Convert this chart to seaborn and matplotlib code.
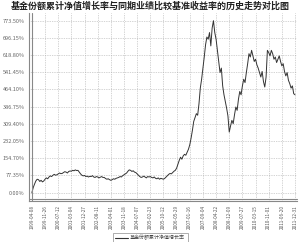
import matplotlib
matplotlib.use("Agg")
import matplotlib.pyplot as plt
import seaborn as sns
import pandas as pd
import numpy as np
from matplotlib.lines import Line2D

title = "基金份额累计净值增长率与同期业绩比较基准收益率的历史走势对比图"
series_name = "基金份额累计净值增长率"

date_labels = [
    "1999-04-08", "1999-11-26", "2000-07-12", "2001-03-04", "2001-12-27",
    "2002-08-11", "2003-04-01", "2003-11-18", "2004-07-07", "2005-02-23",
    "2005-10-12", "2006-05-29", "2007-01-16", "2007-09-04", "2008-04-22",
    "2008-12-09", "2009-07-27", "2010-03-15", "2010-11-01", "2011-06-20",
    "2011-12-31",
]

nav_growth = [
    0, 22, 38, 52, 60, 58, 50, 55, 48, 52,
    60, 66, 62, 70, 75, 72, 78, 82, 78, 80,
    84, 88, 85, 86, 90, 94, 92, 88, 95, 97,
    96, 100, 98, 102, 99, 100, 92, 84, 78, 75,
    77, 72, 74, 70, 73, 72, 76, 70, 68, 72,
    70, 66, 69, 72, 68, 68, 63, 60, 62, 58,
    55, 58, 62, 60, 64, 66, 68, 72, 70, 76,
    80, 84, 88, 96, 102, 100, 95, 98, 92, 90,
    84, 78, 72, 68, 70, 74, 70, 66, 72, 70,
    72, 68, 66, 70, 64, 62, 66, 60, 64, 62,
    60, 64, 70, 76, 82, 86, 84, 90, 96, 100,
    110, 128, 145, 159, 150, 165, 172, 168, 182, 195,
    215, 245, 280, 320, 337, 355, 348, 400, 470, 510,
    560, 610, 665, 700, 690, 720, 660, 740, 773.5, 720,
    690, 640, 590, 540, 560, 480, 440, 410, 380, 345,
    272, 300, 325, 310, 350, 385, 370, 420, 455, 440,
    480, 510, 495, 540, 580, 625, 610, 640, 615, 590,
    600, 575, 560, 540, 520, 545, 500, 475, 520, 640,
    630, 615, 640, 625, 600, 610, 585, 600, 615, 590,
    570, 580, 545, 525, 540, 505, 490, 470, 480, 445,
    440,
]

y_ticks = [0.00, 77.35, 154.70, 232.05, 309.40, 386.75, 464.10, 541.45, 618.80, 696.15, 773.50]

sns.set_style("white")
plt.rcParams["font.family"] = ["Noto Sans CJK SC", "DejaVu Sans"]

df = pd.DataFrame({"idx": np.arange(len(nav_growth)), "val": nav_growth, "series": series_name})

fig = plt.figure(figsize=(3.0, 2.42), dpi=100)
ax = fig.add_axes([29 / 300, 1 - 201 / 242, (297 - 29) / 300, (201 - 13) / 242])

sns.lineplot(data=df, x="idx", y="val", hue="series", palette=["#333333"],
             linewidth=0.7, ax=ax, legend=False)

step = (len(nav_growth) - 1) / (len(date_labels) - 1)
tick_pos = [i * step for i in range(len(date_labels))]
ax.set_xticks(tick_pos)
ax.set_xticklabels(date_labels, rotation=90, fontsize=3.3, color="#555555")
ax.set_yticks(y_ticks)
ax.set_yticklabels([f"{v:.2f}%" for v in y_ticks], fontsize=4.0, color="#666666")
ax.set_xlim(-2.2, 201.5)
ax.set_ylim(-38, 808)
ax.set_xlabel("")
ax.set_ylabel("")

ax.grid(True, linestyle=(0, (1, 1.5)), color="#aaaaaa", linewidth=0.5)
ax.tick_params(axis="both", length=2, width=0.5, color="#888888", pad=1)

for s in ["top", "right"]:
    ax.spines[s].set_visible(False)
for s in ["left", "bottom"]:
    ax.spines[s].set_color("#888888")
    ax.spines[s].set_linewidth(0.8)

# double-line axes
ax.plot([2.5 / 268, 2.5 / 268], [0, 1], transform=ax.transAxes, color="#888888", lw=0.8, clip_on=False)
ax.plot([0, 1], [2 / 188, 2 / 188], transform=ax.transAxes, color="#888888", lw=0.8, clip_on=False)

fig.text(0.5, 1 - 6 / 242, title, ha="center", va="center", fontsize=6.5,
         fontweight="bold", color="#222222")

handle = Line2D([], [], color="#333333", lw=0.8)
leg = fig.legend([handle], [series_name], loc="upper center", bbox_to_anchor=(0.5, 1 - 230 / 242),
                 fontsize=3.6, frameon=True, fancybox=False, handlelength=2.5,
                 borderpad=0.5, handletextpad=0.5)
leg.get_frame().set_edgecolor("#888888")
leg.get_frame().set_linewidth(0.6)
for t in leg.get_texts():
    t.set_color("#444444")

fig.savefig("out.png", dpi=100)
